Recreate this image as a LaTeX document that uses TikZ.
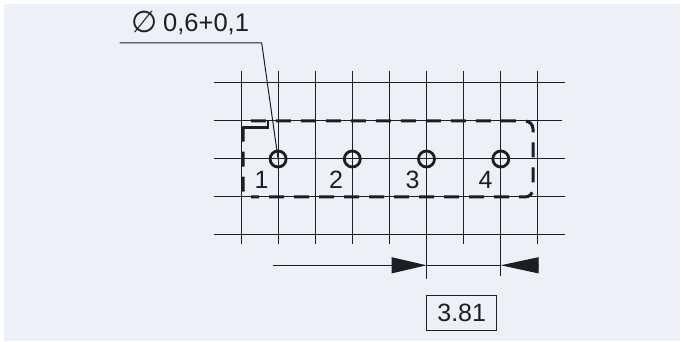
\documentclass[tikz,border=0pt]{standalone}
\usepackage{xcolor}
\usepackage{fontspec}
\setmainfont{Liberation Sans}
\newfontfamily\symfont{DejaVu Sans}
\definecolor{inkdark}{RGB}{29, 29, 36}
\definecolor{panelblue}{RGB}{238, 240, 248}
\usetikzlibrary{arrows.meta, positioning}

\tikzset{
    gridline/.style={draw=inkdark, line width=1pt},
    outline/.style={draw=inkdark, line width=3pt, dash pattern=on 15pt off 10pt, dash phase=7pt, rounded corners=8pt},
    pad/.style={circle, draw=inkdark, line width=2.8pt, minimum size=16pt, inner sep=0pt},
    padlabel/.style={text=inkdark, font=\fontsize{25}{25}\selectfont, inner sep=0pt},
    dimarrow/.style={draw=inkdark, line width=1pt, -{Triangle[length=#1,width=16pt]}},
    dimarrow/.default=35pt,
    valuebox/.style={draw=inkdark, line width=1pt, text=inkdark, minimum width=70pt, minimum height=34.5pt, inner sep=0pt, font=\fontsize{25}{25}\selectfont}
}

\begin{document}
\begin{tikzpicture}[x=1pt, y=-1pt]
    \useasboundingbox (0,0) rectangle (681,342);
    \fill[white] (0,0) rectangle (681,342);
    \fill[panelblue] (4,4) rectangle (680,341);

    % raster
    \foreach \gx in {241,278.1,315.2,352.3,389.4,426.5,463.6,500.8,537.9} {
        \draw[gridline] (\gx,71) -- (\gx,244);
    }
    \foreach \gy/\xend in {83/565,121/562,159/565,197/565,234.7/565} {
        \draw[gridline] (214,\gy) -- (\xend,\gy);
    }

    % component outline
    \draw[outline] (243,197) -- (533,197) -- (533,121) -- (243,121) -- cycle;
    \draw[draw=inkdark, line width=2.6pt] (243,127.5) -- (268,127.5) -- (268,121);

    % pads
    \node[pad] (pad1) at (278.1,159) {};
    \node[pad] (pad2) at (352.3,159) {};
    \node[pad] (pad3) at (426.5,159) {};
    \node[pad] (pad4) at (500.8,159) {};
    \node[padlabel] (num1) at (261.5,180) {1};
    \node[padlabel] (num2) at (336,180) {2};
    \node[padlabel] (num3) at (412.5,180) {3};
    \node[padlabel] (num4) at (485.5,180) {4};

    % leader
    \coordinate (leadstart) at (119.5,43);
    \coordinate (leadbend) at (261.7,43);
    \draw[gridline] (leadstart) -- (leadbend) -- (pad1.center);
    \node[text=inkdark, font=\fontsize{25.5}{25.5}\selectfont, anchor=base west, inner sep=0pt] (diameter) at (163,31.5) {0,6+0,1};
    \node[text=inkdark, font=\symfont\fontsize{30}{30}\selectfont, inner sep=0pt, anchor=center] (diamsign) at (145,21.5) {∅};

    % dimension
    \coordinate (dimleft) at (272.5,265.3);
    \coordinate (dima) at (426.5,265.3);
    \coordinate (dimb) at (500.8,265.3);
    \coordinate (dimright) at (538.7,265.3);
    \draw[gridline] (426.5,244) -- (426.5,279);
    \draw[gridline] (500.8,244) -- (500.8,275.7);
    \draw[dimarrow] (dimleft) -- (dima);
    \draw[dimarrow=37.9pt] (dimright) -- (dimb);
    \draw[gridline] (dima) -- (dimb);

    \node[valuebox] (pitch) at (461.7,313) {3.81};
\end{tikzpicture}
\end{document}
